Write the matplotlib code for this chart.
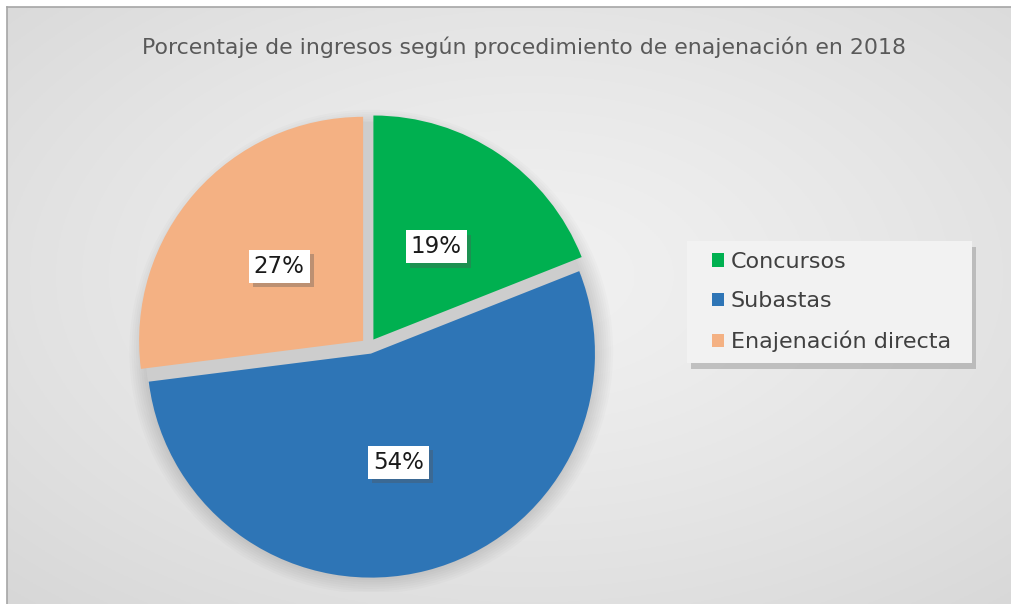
import numpy as np
import matplotlib.pyplot as plt
from matplotlib.patches import Circle, Rectangle
from matplotlib import patheffects

# datos
categorias = ['Concursos', 'Subastas', 'Enajenación directa']
porcentajes = [19, 54, 27]
colores = ['#00b050', '#2e75b6', '#f4b183']
titulo = 'Porcentaje de ingresos según procedimiento de enajenación en 2018'

W, H = 1012, 604
fig = plt.figure(figsize=(W / 100, H / 100), dpi=100)
fig.patch.set_facecolor('white')

# fondo con degradado radial
bg = fig.add_axes([7 / W, 0, 1 - 7 / W, 1 - 7 / H])
yy, xx = np.mgrid[0:1:300j, 0:1:500j]
d = np.sqrt(((xx - 0.52) / 0.75) ** 2 + ((yy - 0.55) / 0.75) ** 2)
d = np.clip(d, 0, 1)
g = 0.945 - 0.10 * d ** 1.3
bg.imshow(np.dstack([g, g, g]), aspect='auto', extent=(0, 1, 0, 1), origin='lower')
bg.set_xticks([])
bg.set_yticks([])
for s in ['right', 'bottom']:
    bg.spines[s].set_visible(False)
for s in ['left', 'top']:
    bg.spines[s].set_color('#a6a6a6')
    bg.spines[s].set_linewidth(1.2)

fig.text(524 / W, 1 - 47 / H, titulo, ha='center', va='center',
         fontsize=15.8, color='#595959')

# tarta
R = 224
cx, cy = 369, H - 346
lim = 1.1
size = 2 * lim * R
ax = fig.add_axes([(cx - size / 2) / W, (cy - size / 2) / H, size / W, size / H])

# sombra suave bajo la tarta
for r in np.linspace(1.08, 1.0, 9):
    ax.add_patch(Circle((0.01, -0.025), r, color='#000000', alpha=0.016, lw=0, zorder=0))
ax.add_patch(Circle((0, 0), 1.0, color='#cdcdcd', lw=0, zorder=0.5))

wedges, _ = ax.pie(porcentajes, colors=colores, startangle=90, counterclock=False,
                   explode=[0.035] * 3, radius=1.0,
                   wedgeprops=dict(linewidth=0, zorder=1))
ax.set_xlim(-lim, lim)
ax.set_ylim(-lim, lim)
ax.set_aspect('equal')
ax.axis('off')

for w, p in zip(wedges, porcentajes):
    ang = np.deg2rad((w.theta1 + w.theta2) / 2)
    x = 0.535 * np.cos(ang)
    y = 0.535 * np.sin(ang)
    t = ax.text(x, y, f'{p}%', ha='center', va='center', fontsize=16.5, color='#1a1a1a',
                zorder=4, bbox=dict(boxstyle='square,pad=0.22', fc='white', ec='none'))
    t.get_bbox_patch().set_path_effects([
        patheffects.SimplePatchShadow(offset=(3, -3), shadow_rgbFace='#555555', alpha=0.35),
        patheffects.Normal()])

# caja de la leyenda
caja = Rectangle((687 / W, 1 - 363 / H), (972 - 687) / W, (363 - 241) / H,
                 transform=fig.transFigure, fc='#f2f2f2', ec='none', zorder=2)
caja.set_path_effects([
    patheffects.SimplePatchShadow(offset=(3, -4), shadow_rgbFace='#8c8c8c', alpha=0.45),
    patheffects.Normal()])
fig.add_artist(caja)

leg = fig.legend(wedges, categorias, loc='upper left',
                 bbox_to_anchor=(712 / W, 1 - 252 / H), frameon=False,
                 fontsize=16, handlelength=0.55, handleheight=0.55,
                 handletextpad=0.3, labelspacing=0.87, borderpad=0,
                 borderaxespad=0)
leg.set_zorder(3)
for t in leg.get_texts():
    t.set_color('#404040')

fig.savefig('out.png', dpi=100)
